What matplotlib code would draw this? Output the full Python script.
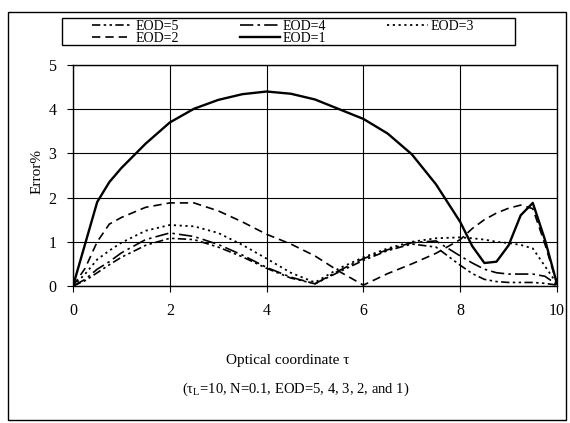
import matplotlib
matplotlib.use("Agg")
import matplotlib.pyplot as plt
from matplotlib.patches import Rectangle

plt.rcParams["font.family"] = ["Liberation Serif", "DejaVu Serif"]
plt.rcParams["mathtext.fontset"] = "custom"
plt.rcParams["mathtext.rm"] = "Liberation Serif"

# optical coordinate tau (shared by all curves)
tau = [0, 0.25, 0.5, 0.75, 1, 1.5, 2, 2.5, 3, 3.5, 4, 4.5, 5, 5.5, 6,
       6.5, 7, 7.5, 8, 8.25, 8.5, 8.75, 9, 9.25, 9.5, 9.75, 10]

# error %, one list per EOD
err_eod5 = [0, 0.12, 0.30, 0.48, 0.65, 0.92, 1.08, 1.05, 0.88, 0.66, 0.40, 0.18, 0.05, 0.32, 0.58,
            0.80, 0.95, 0.88, 0.47, 0.28, 0.15, 0.10, 0.08, 0.08, 0.08, 0.06, 0.02]
err_eod4 = [0, 0.15, 0.38, 0.55, 0.75, 1.05, 1.20, 1.12, 0.94, 0.70, 0.42, 0.20, 0.05, 0.35, 0.62,
            0.82, 0.98, 1.02, 0.68, 0.52, 0.38, 0.30, 0.27, 0.27, 0.27, 0.22, 0.03]
err_eod3 = [0, 0.27, 0.60, 0.80, 0.98, 1.25, 1.38, 1.35, 1.20, 0.93, 0.62, 0.30, 0.08, 0.40, 0.65,
            0.85, 1.00, 1.08, 1.10, 1.08, 1.05, 1.00, 0.97, 0.93, 0.85, 0.45, 0.05]
err_eod2 = [0, 0.40, 1.00, 1.40, 1.55, 1.78, 1.88, 1.88, 1.70, 1.45, 1.17, 0.95, 0.68, 0.33, 0.02,
            0.28, 0.50, 0.74, 1.05, 1.30, 1.50, 1.65, 1.76, 1.83, 1.75, 0.95, 0.05]
err_eod1 = [0, 0.95, 1.90, 2.35, 2.67, 3.22, 3.70, 4.01, 4.21, 4.34, 4.40, 4.35, 4.22, 4.00, 3.78,
            3.45, 2.98, 2.30, 1.45, 0.90, 0.52, 0.55, 0.92, 1.60, 1.88, 1.05, 0.05]

labels = ["EOD=5", "EOD=4", "EOD=3", "EOD=2", "EOD=1"]
x_ticks = [0, 2, 4, 6, 8, 10]
y_ticks = [0, 1, 2, 3, 4, 5]

W, H = 570, 423
fig = plt.figure(figsize=(W / 100, H / 100), dpi=100)
ax = fig.add_axes([73 / W, 1 - 286 / H, 484 / W, 221 / H])

styles = [
    dict(ls=(0, (5, 2, 1.5, 2, 1.5, 2)), lw=1.2),
    dict(ls=(0, (8, 2.5, 1.5, 2.5)), lw=1.2),
    dict(ls=(0, (1.2, 2)), lw=1.3),
    dict(ls=(0, (5, 3)), lw=1.2),
    dict(ls="-", lw=1.7),
]
series = [err_eod5, err_eod4, err_eod3, err_eod2, err_eod1]
lines = {}
for lab, ys, st in zip(labels, series, styles):
    (ln,) = ax.plot(tau, ys, color="black", label=lab, **st)
    lines[lab] = ln

ax.set_xlim(0, 10)
ax.set_ylim(0, 5)
ax.set_xticks(x_ticks)
ax.set_yticks(y_ticks)
ax.tick_params(direction="out", length=4, width=0.8, labelsize=11.5, pad=8)
ax.grid(True, color="black", lw=0.8)
ax.set_axisbelow(True)
for sp in ax.spines.values():
    sp.set_linewidth(1.0)

fig.text(37 / W, 1 - 172 / H, "Error%", rotation=90, ha="center", va="center", fontsize=11)
fig.text(288 / W, 1 - 360 / H, "Optical coordinate \u03c4", ha="center", va="center", fontsize=11)
fig.text(296 / W, 1 - 389 / H, "(\u03c4$_{\\mathrm{L}}$=10, N=0.1, EOD=5, 4, 3, 2, and 1)",
         ha="center", va="center", fontsize=10.5)

# legend filled row-wise like the original
order = ["EOD=5", "EOD=2", "EOD=4", "EOD=1", "EOD=3"]
fig.legend([lines[k] for k in order], order, ncol=3, frameon=False,
           loc="upper left", bbox_to_anchor=(92 / W, 1 - 20 / H),
           fontsize=10, handlelength=2.9, handletextpad=0.2,
           columnspacing=4.4, labelspacing=-0.1, borderpad=0, borderaxespad=0)
fig.patches.append(Rectangle((62 / W, 1 - 45 / H), 453 / W, 27 / H, transform=fig.transFigure,
                             fill=False, edgecolor="black", lw=1.0))
# page border
fig.patches.append(Rectangle((8 / W, 1 - 420 / H), 558 / W, 408 / H, transform=fig.transFigure,
                             fill=False, edgecolor="black", lw=1.0))

fig.savefig("out.png", dpi=100)
